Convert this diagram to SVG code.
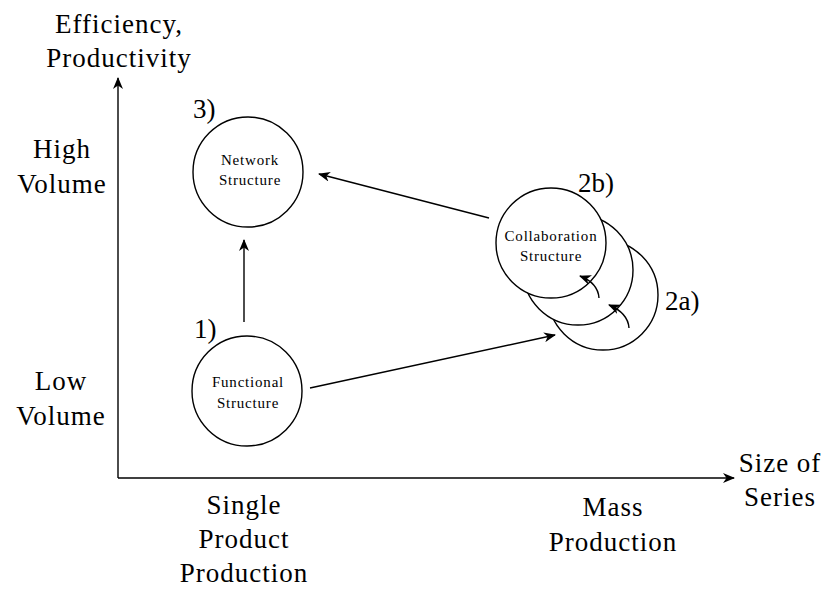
<svg xmlns="http://www.w3.org/2000/svg" width="831" height="589" viewBox="0 0 831 589">
  <style>
    .lbl { font-family: "Liberation Serif", "Times New Roman", serif; font-size: 27px; letter-spacing: 1px; fill: #000; text-anchor: middle; }
    .num { font-family: "Liberation Serif", "Times New Roman", serif; font-size: 27px; fill: #000; }
    .nt { font-family: "Liberation Serif", "Times New Roman", serif; font-size: 15px; letter-spacing: 0.8px; fill: #000; text-anchor: middle; }
    .node { fill: #fff; stroke: #000; stroke-width: 1.4; }
    .edge { fill: none; stroke: #000; stroke-width: 1.4; marker-end: url(#arrow); }
  </style>
  <defs>
    <marker id="arrow" viewBox="0 0 12 10" refX="11" refY="5" markerWidth="12" markerHeight="10" markerUnits="userSpaceOnUse" orient="auto">
      <path d="M0,0 L12,5 L0,10 L3.5,5 z" fill="#000"/>
    </marker>
  </defs>
  <rect width="831" height="589" fill="#fff"/>

  <!-- axes -->
  <g id="axes">
    <path class="edge" d="M118,478 L118,78"/>
    <path class="edge" d="M118,478 L734,478"/>
    <text class="lbl" x="119" y="33">Efficiency,</text>
    <text class="lbl" x="119" y="67">Productivity</text>
    <text class="lbl" x="62" y="158">High</text>
    <text class="lbl" x="62" y="193">Volume</text>
    <text class="lbl" x="61" y="390">Low</text>
    <text class="lbl" x="61" y="425">Volume</text>
    <text class="lbl" x="780" y="472">Size of</text>
    <text class="lbl" x="780" y="506">Series</text>
    <text class="lbl" x="244" y="514">Single</text>
    <text class="lbl" x="244" y="548">Product</text>
    <text class="lbl" x="244" y="582">Production</text>
    <text class="lbl" x="613" y="516">Mass</text>
    <text class="lbl" x="613" y="551">Production</text>
  </g>

  <!-- collaboration structure stack (2a back circles, 2b front) -->
  <g id="collab-back2">
    <circle class="node" cx="603" cy="295" r="55"/>
  </g>
  <g id="collab-back1">
    <circle class="node" cx="578" cy="270" r="55"/>
  </g>
  <g id="collab">
    <circle class="node" cx="551" cy="243" r="55"/>
    <text class="nt" x="551" y="241">Collaboration</text>
    <text class="nt" x="551" y="261">Structure</text>
    <text class="num" x="578" y="192">2b)</text>
    <text class="num" x="665" y="310">2a)</text>
  </g>

  <g id="network">
    <circle class="node" cx="248" cy="172" r="55"/>
    <text class="nt" x="250" y="165">Network</text>
    <text class="nt" x="250" y="185">Structure</text>
    <text class="num" x="193" y="118">3)</text>
  </g>

  <g id="functional">
    <circle class="node" cx="247" cy="391" r="55"/>
    <text class="nt" x="248" y="387">Functional</text>
    <text class="nt" x="248" y="408">Structure</text>
    <text class="num" x="194" y="338">1)</text>
  </g>

  <!-- connectors -->
  <g id="connectors">
    <path class="edge" d="M244,322 L244,240"/>
    <path class="edge" d="M489,218 L319,174"/>
    <path class="edge" d="M310,388 L555,335"/>
    <path class="edge" d="M599,298 Q598,283 580,276"/>
    <path class="edge" d="M629,328 Q628,313 609,305"/>
  </g>
</svg>
